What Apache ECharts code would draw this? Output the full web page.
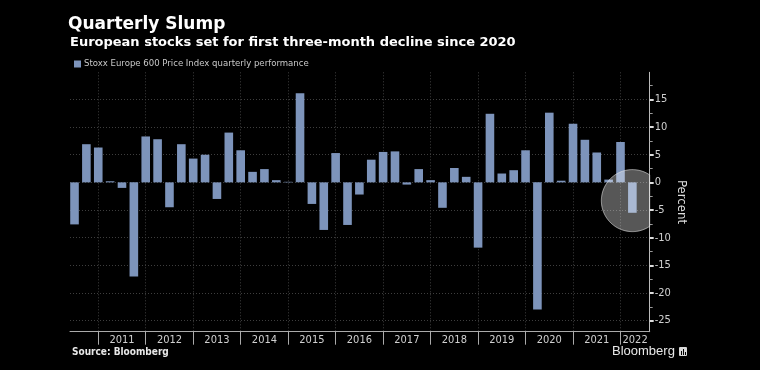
<!DOCTYPE html>
<html><head><meta charset="utf-8">
<script src="https://cdn.jsdelivr.net/npm/echarts@6/dist/echarts.min.js"></script>
<style>html,body{margin:0;padding:0;background:#000}#c{width:760px;height:370px}</style>
</head><body><div id="c"></div>
<script>
// ---- data ----
const quarters = [
  '2010 Q2','2010 Q3','2010 Q4',
  '2011 Q1','2011 Q2','2011 Q3','2011 Q4',
  '2012 Q1','2012 Q2','2012 Q3','2012 Q4',
  '2013 Q1','2013 Q2','2013 Q3','2013 Q4',
  '2014 Q1','2014 Q2','2014 Q3','2014 Q4',
  '2015 Q1','2015 Q2','2015 Q3','2015 Q4',
  '2016 Q1','2016 Q2','2016 Q3','2016 Q4',
  '2017 Q1','2017 Q2','2017 Q3','2017 Q4',
  '2018 Q1','2018 Q2','2018 Q3','2018 Q4',
  '2019 Q1','2019 Q2','2019 Q3','2019 Q4',
  '2020 Q1','2020 Q2','2020 Q3','2020 Q4',
  '2021 Q1','2021 Q2','2021 Q3','2021 Q4',
  '2022 Q1'
];
const performance = [
  -7.6, 6.9, 6.3,
  0.2, -1.0, -17.0, 8.3,
  7.8, -4.5, 6.9, 4.3,
  5.0, -3.0, 9.0, 5.8,
  1.9, 2.4, 0.4, 0.1,
  16.1, -3.9, -8.6, 5.3,
  -7.7, -2.2, 4.1, 5.5,
  5.6, -0.4, 2.4, 0.4,
  -4.6, 2.6, 1.0, -11.8,
  12.4, 1.6, 2.2, 5.8,
  -23.0, 12.6, 0.3, 10.6,
  7.7, 5.4, 0.5, 7.3,
  -5.5
];
const years = ['2011','2012','2013','2014','2015','2016','2017','2018','2019','2020','2021','2022'];
const yTicks = [-25, -20, -15, -10, -5, 0, 5, 10, 15];
const yMinorTicks = [-22.5, -17.5, -12.5, -7.5, -2.5, 2.5, 7.5, 12.5, 17.5];
const highlightQuarter = ['2022 Q1'];
const highlightCenterValue = [-3.3];
const seriesName = 'Stoxx Europe 600 Price Index quarterly performance';

// ---- axis extents ----
const X_MIN = -0.38, X_MAX = 48.46;
const Y_MIN = -27, Y_MAX = 19.9;

const boundaryIdx = quarters.map((q, i) => q.endsWith('Q4') ? i : -1).filter(i => i >= 0);
const labelPos = years.map((y, i) => i < boundaryIdx.length - 1
  ? (boundaryIdx[i] + boundaryIdx[i + 1]) / 2
  : (boundaryIdx[i] + X_MAX) / 2);

const chart = echarts.init(document.getElementById('c'), null, {renderer: 'canvas'});
const axisFont = 'DejaVu Sans Condensed';
const gridColor = '#3e3e3e';
const circleFill = 'rgba(255,255,255,0.34)';
const circleStroke = 'rgba(230,230,230,0.6)';

chart.setOption({
  backgroundColor: '#000',
  animation: false,
  title: [
    {text: 'Quarterly Slump', left: 63, top: 11,
     textStyle: {color: '#fff', fontFamily: 'DejaVu Sans', fontWeight: 'bold', fontSize: 17}},
    {text: 'European stocks set for first three-month decline since 2020', left: 65, top: 31,
     textStyle: {color: '#fff', fontFamily: 'DejaVu Sans', fontWeight: 'bold', fontSize: 13}}
  ],
  legend: {
    left: 69, top: 54, icon: 'rect', itemWidth: 7, itemHeight: 7, itemGap: 4,
    data: [seriesName],
    textStyle: {color: '#c8c8c8', fontFamily: axisFont, fontSize: 9.5, padding: [0, 0, 0, -2]}
  },
  grid: {left: 70, right: 110.3, top: 72.3, bottom: 38.3, containLabel: false},
  xAxis: {
    type: 'value', min: X_MIN, max: X_MAX,
    axisLine: {show: true, onZero: false, lineStyle: {color: '#aaa', width: 1}},
    axisTick: {show: true, customValues: boundaryIdx, length: 13, lineStyle: {color: '#aaa'}},
    axisLabel: {
      customValues: labelPos, margin: 3, color: '#d0d0d0', fontFamily: axisFont, fontSize: 11,
      formatter: v => { const i = labelPos.findIndex(p => Math.abs(p - v) < 1e-6); return i >= 0 ? years[i] : ''; }
    },
    splitLine: {show: true, lineStyle: {color: gridColor, type: [1, 2], width: 1}}
  },
  yAxis: [
    {
      type: 'value', position: 'right', min: Y_MIN, max: Y_MAX,
      name: 'Percent', nameLocation: 'middle', nameRotate: -90, nameGap: 25, nameMoveOverlap: false,
      nameTextStyle: {color: '#ddd', fontFamily: axisFont, fontSize: 13},
      axisLine: {show: true, onZero: false, lineStyle: {color: '#bbb', width: 1}},
      axisTick: {show: true, customValues: yTicks, length: 4, lineStyle: {color: '#ddd', width: 2}},
      axisLabel: {customValues: yTicks, margin: 5, color: '#d0d0d0', fontFamily: axisFont, fontSize: 11},
      splitLine: {show: true, lineStyle: {color: gridColor, type: [1, 2], width: 1}}
    },
    {
      type: 'value', position: 'right', min: Y_MIN, max: Y_MAX,
      axisLine: {show: false, onZero: false},
      axisTick: {show: true, customValues: yMinorTicks, length: 3, lineStyle: {color: '#999', width: 1}},
      axisLabel: {show: false},
      splitLine: {show: false}
    }
  ],
  series: [
    {
      name: seriesName, type: 'bar', barWidth: 8.6,
      itemStyle: {color: '#7d94bb'},
      data: performance.map((v, i) => [i, v]),
      z: 2
    }
  ]
});

// highlight circle: centre placed through the chart's own scale, clipped to the plot area
const hiIdx = quarters.indexOf(highlightQuarter[0]);
const centre = chart.convertToPixel({gridIndex: 0}, [hiIdx, highlightCenterValue[0]]);
const tl = chart.convertToPixel({gridIndex: 0}, [X_MIN, Y_MAX]);
const br = chart.convertToPixel({gridIndex: 0}, [X_MAX, Y_MIN]);
const R = 31;
const circlePts = [];
for (let k = 0; k < 180; k++) {
  const a = k / 180 * Math.PI * 2;
  circlePts.push([
    Math.min(Math.max(centre[0] + R * Math.cos(a), tl[0]), br[0]),
    Math.min(Math.max(centre[1] + R * Math.sin(a), tl[1]), br[1])
  ]);
}

chart.setOption({
  graphic: [
    {type: 'polygon', z: 5, silent: true, shape: {points: circlePts},
     style: {fill: circleFill, stroke: circleStroke, lineWidth: 1}},
    {type: 'text', left: 72, top: 347,
     style: {text: 'Source: Bloomberg', fill: '#e8e8e8', font: 'bold 10px "DejaVu Sans Condensed"'}},
    {type: 'text', left: 612, top: 345,
     style: {text: 'Bloomberg', fill: '#e8e8e8', font: '13px "Liberation Sans"'}},
    {type: 'group', left: 679, top: 347, children: [
      {type: 'rect', shape: {x: 0, y: 0, width: 8, height: 9, r: 1}, style: {fill: '#d8d8d8'}},
      {type: 'rect', shape: {x: 2, y: 4, width: 1, height: 4}, style: {fill: '#000'}},
      {type: 'rect', shape: {x: 4, y: 2, width: 1, height: 6}, style: {fill: '#000'}},
      {type: 'rect', shape: {x: 6, y: 5, width: 1, height: 3}, style: {fill: '#000'}}
    ]}
  ]
});
</script>
</body></html>
